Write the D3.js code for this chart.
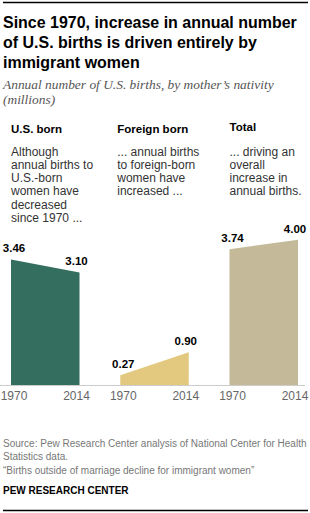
<!DOCTYPE html>
<html>
<head>
<meta charset="utf-8">
<script src="https://cdn.jsdelivr.net/npm/d3@7"></script>
<style>
  html, body { margin: 0; padding: 0; background: #fff; }
  svg { display: block; }
  .sans { font-family: "Liberation Sans", Arial, sans-serif; }
</style>
</head>
<body>
<svg id="chart" width="310" height="513"></svg>
<script>
// ---- Data ----
const groups = ["U.S. born", "Foreign born", "Total"];
const years = ["1970", "2014"];
const usBorn = [3.46, 3.10];
const foreignBorn = [0.27, 0.90];
const total = [3.74, 4.00];
const seriesValues = [usBorn, foreignBorn, total];
const colors = ["#336e5f", "#e3c880", "#c4ba9a"];
const notes = [
  ["Although", "annual births to", "U.S.-born", "women have", "decreased", "since 1970 ..."],
  ["... annual births", "to foreign-born", "women have", "increased ..."],
  ["... driving an", "overall", "increase in", "annual births."]
];
const titleLines = ["Since 1970, increase in annual number", "of U.S. births is driven entirely by", "immigrant women"];
const subtitleLines = ["Annual number of U.S. births, by mother\u2019s nativity", "(millions)"];
const sourceLines = [
  "Source: Pew Research Center analysis of National Center for Health",
  "Statistics data.",
  "\u201cBirths outside of marriage decline for immigrant women\u201d"
];
const credit = "PEW RESEARCH CENTER";

// ---- Layout ----
const W = 310, H = 513;
const svg = d3.select("#chart");
const baseY = 385;

const x = d3.scaleBand().domain(groups).range([11, 298]).paddingInner(0.373);
const y = d3.scaleLinear().domain([0, 4]).range([baseY, baseY - 145.2]);
const xi = d3.scalePoint().domain(years).range([0, x.bandwidth()]);

// top & bottom rules
svg.append("line").attr("x1", 3).attr("x2", 308).attr("y1", 2.5).attr("y2", 2.5)
  .attr("stroke", "#000").attr("stroke-width", 1.3);
svg.append("line").attr("x1", 3).attr("x2", 308).attr("y1", 510.5).attr("y2", 510.5)
  .attr("stroke", "#000").attr("stroke-width", 1.3);

// title (fit first line to ~294px)
const title = svg.append("text").attr("class", "sans")
  .attr("font-size", 17).attr("font-weight", "bold").attr("fill", "#000");
title.selectAll("tspan").data(titleLines).join("tspan")
  .attr("x", 3).attr("y", (d, i) => 28 + i * 20.2).text(d => d);
const firstLen = title.select("tspan").node().getComputedTextLength();
title.attr("font-size", 17 * 294 / firstLen);

// subtitle
const sub = svg.append("text")
  .attr("font-family", "'Liberation Serif', 'Times New Roman', serif")
  .attr("font-style", "italic").attr("font-size", 14).attr("fill", "#555");
sub.selectAll("tspan").data(subtitleLines).join("tspan")
  .attr("x", 3).attr("y", (d, i) => 89 + i * 15).text(d => d);
const subLen = sub.select("tspan").node().getComputedTextLength();
sub.attr("font-size", Math.min(15, 14 * 271 / subLen));

// panels
const panel = svg.append("g").selectAll("g").data(groups).join("g")
  .attr("transform", d => `translate(${x(d)},0)`);

panel.append("text").attr("class", "sans")
  .attr("x", (d, i) => i === 1 ? -3 : 0).attr("y", (d, i) => i === 2 ? 131 : 133)
  .attr("font-size", 11.5).attr("font-weight", "bold").attr("fill", "#000")
  .text(d => d);

panel.append("text").attr("class", "sans")
  .attr("font-size", 12).attr("fill", "#333")
  .each(function (d, i) {
    d3.select(this).selectAll("tspan").data(notes[i]).join("tspan")
      .attr("x", i === 1 ? -3 : 0).attr("y", (t, j) => 155.5 + j * 13.3).text(t => t);
  });

const area = d3.area()
  .x((d, i) => xi(years[i]))
  .y0(baseY)
  .y1(d => y(d));

panel.append("path")
  .attr("d", (d, i) => area(seriesValues[i]))
  .attr("fill", (d, i) => colors[i]);

// value labels
const labelX = (j) => j === 0 ? xi(years[0]) + 3 : xi(years[1]) - 3;
panel.each(function (g, i) {
  const sel = d3.select(this);
  sel.selectAll("text.val").data(seriesValues[i]).join("text")
    .attr("class", "val sans")
    .attr("x", (v, j) => labelX(j))
    .attr("y", v => y(v) - 7)
    .attr("text-anchor", "middle")
    .attr("font-size", 11.5).attr("font-weight", "bold").attr("fill", "#000")
    .text(v => v.toFixed(2));
  sel.selectAll("text.tick").data(years).join("text")
    .attr("class", "tick sans")
    .attr("x", (t, j) => labelX(j))
    .attr("y", 400)
    .attr("text-anchor", "middle")
    .attr("font-size", 12).attr("fill", "#666")
    .text(t => t);
});

// baseline
svg.append("line").attr("x1", 0).attr("x2", 305).attr("y1", baseY + 0.5).attr("y2", baseY + 0.5)
  .attr("stroke", "#ccc").attr("stroke-width", 1);

// source
svg.append("text").attr("class", "sans")
  .attr("font-size", 10).attr("fill", "#777")
  .selectAll("tspan").data(sourceLines).join("tspan")
  .attr("x", 3).attr("y", (d, i) => 447 + i * 13.3).text(d => d);

svg.append("text").attr("class", "sans")
  .attr("x", 3).attr("y", 494)
  .attr("font-size", 10).attr("font-weight", "bold").attr("fill", "#000")
  .text(credit);
</script>
</body>
</html>
